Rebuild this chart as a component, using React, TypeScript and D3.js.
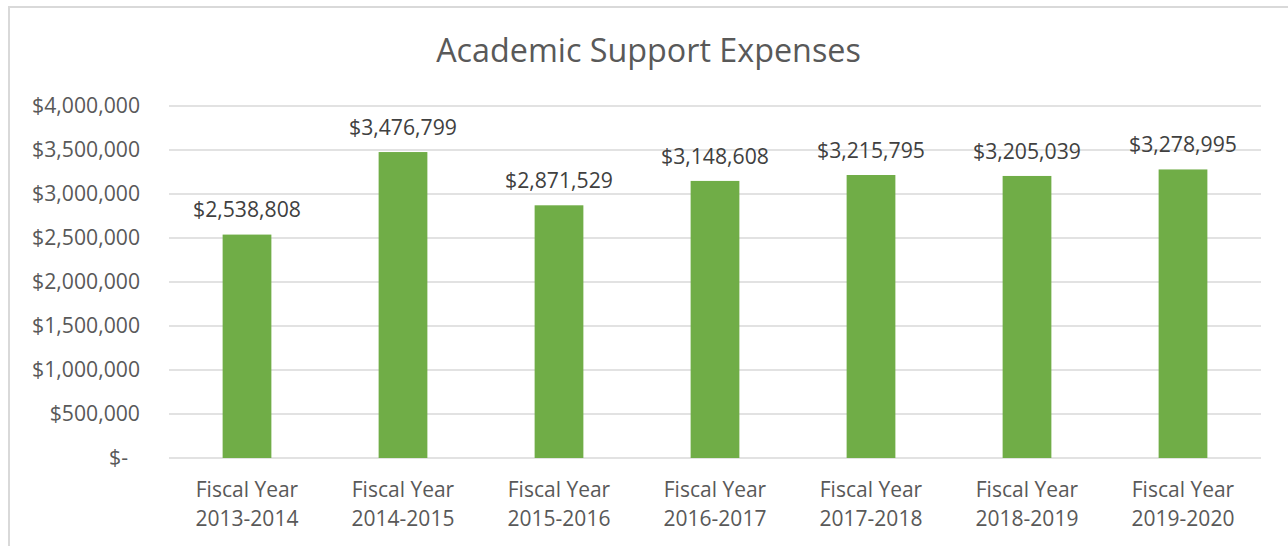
import React from "react";
import * as d3 from "d3";

const categories = [
  "2013-2014",
  "2014-2015",
  "2015-2016",
  "2016-2017",
  "2017-2018",
  "2018-2019",
  "2019-2020",
];
const categoryPrefix = "Fiscal Year";
const expenses = [2538808, 3476799, 2871529, 3148608, 3215795, 3205039, 3278995];
const yTicks = [0, 500000, 1000000, 1500000, 2000000, 2500000, 3000000, 3500000, 4000000];
const title = "Academic Support Expenses";

const W = 1288;
const H = 546;
const FONT = "'Open Sans', 'Noto Sans', sans-serif";

export default function App() {
  const plotLeft = 169;
  const plotRight = 1261;
  const plotTop = 106;
  const plotBottom = 458;

  const x = d3
    .scaleBand<string>()
    .domain(categories)
    .range([plotLeft, plotRight])
    .paddingInner(0.6875)
    .paddingOuter(0.34375);
  const y = d3.scaleLinear().domain([0, 4000000]).range([plotBottom, plotTop]);
  const money = d3.format("$,");
  const tickFmt = (v: number) => (v === 0 ? "$-" : money(v));

  return (
    <svg
      width={W}
      height={H}
      style={{ position: "absolute", left: 0, top: 0, background: "#fff" }}
      fontFamily={FONT}
    >
      <rect x={0} y={0} width={W} height={H} fill="#fff" />
      {/* chart border */}
      <rect x={9} y={7} width={W + 20} height={H + 20} fill="none" stroke="#D9D9D9" strokeWidth={2} />

      <text x={648.5} y={61.5} textAnchor="middle" fontSize={32.3} fill="#595959">
        {title}
      </text>

      {/* gridlines */}
      {yTicks.map((t) => (
        <line
          key={t}
          x1={plotLeft}
          x2={plotRight}
          y1={y(t)}
          y2={y(t)}
          stroke="#D9D9D9"
          strokeWidth={1.3}
        />
      ))}

      {/* y tick labels */}
      {yTicks.map((t) => (
        <text
          key={"l" + t}
          x={140}
          dx={t === 0 ? -12 : 0}
          y={y(t) + 7.4}
          textAnchor="end"
          fontSize={21.2}
          fill="#595959"
        >
          {tickFmt(t)}
        </text>
      ))}

      {/* bars */}
      {expenses.map((v, i) => (
        <rect
          key={categories[i]}
          x={x(categories[i])}
          y={y(v)}
          width={x.bandwidth()}
          height={plotBottom - y(v)}
          fill="#70AD47"
        />
      ))}

      {/* data labels */}
      {expenses.map((v, i) => (
        <text
          key={"d" + i}
          x={(x(categories[i]) as number) + x.bandwidth() / 2}
          y={y(v) - 17.3}
          textAnchor="middle"
          fontSize={21.2}
          fill="#404040"
        >
          {money(v)}
        </text>
      ))}

      {/* x labels */}
      {categories.map((c) => (
        <text
          key={"x" + c}
          x={(x(c) as number) + x.bandwidth() / 2}
          y={plotBottom + 38.7}
          textAnchor="middle"
          fontSize={21}
          fill="#595959"
        >
          <tspan x={(x(c) as number) + x.bandwidth() / 2}>{categoryPrefix}</tspan>
          <tspan x={(x(c) as number) + x.bandwidth() / 2} dy={29.3}>
            {c}
          </tspan>
        </text>
      ))}
    </svg>
  );
}
